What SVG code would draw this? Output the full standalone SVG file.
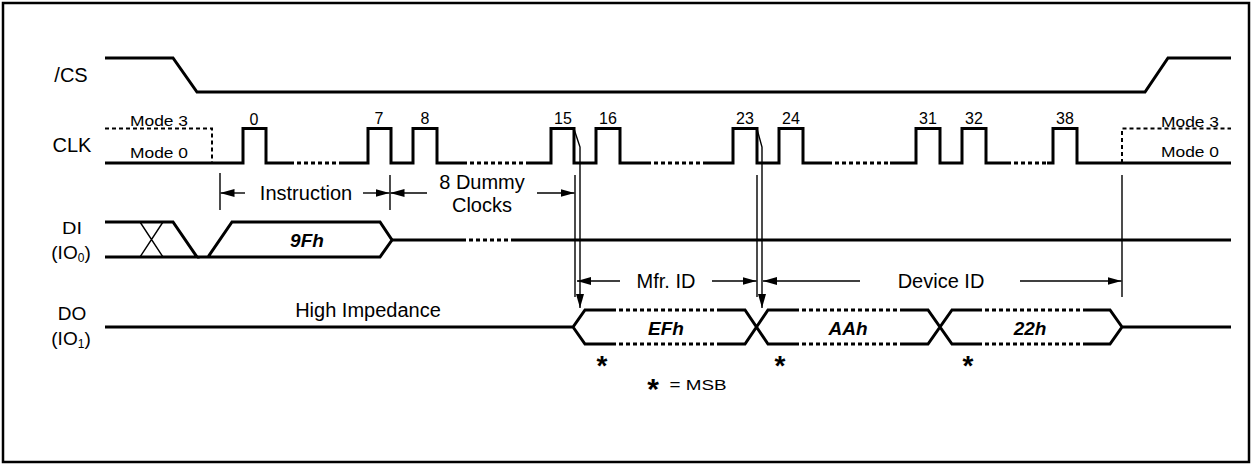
<svg xmlns="http://www.w3.org/2000/svg" width="1252" height="464" viewBox="0 0 1252 464">
<defs>
<style>
.sig{fill:none;stroke:#000;stroke-width:3;stroke-linejoin:miter}
.dash{fill:none;stroke:#000;stroke-width:3;stroke-dasharray:4 3}
.thin{fill:none;stroke:#000;stroke-width:1.4}
.mdash{fill:none;stroke:#000;stroke-width:2;stroke-dasharray:4 3}
text{font-family:"Liberation Sans",Arial,sans-serif;fill:#000}
.lbl{font-size:20px;text-anchor:middle}
.num{font-size:16px;text-anchor:middle}
.mode{font-size:15px;text-anchor:middle}
.bus{font-size:19px;font-weight:bold;font-style:italic;text-anchor:middle}
.ast{font-size:28px;font-weight:bold;text-anchor:middle}
</style>
<marker id="ah" viewBox="0 0 14 8" refX="14" refY="4" markerWidth="14" markerHeight="8" markerUnits="userSpaceOnUse" orient="auto">
<path d="M0,0 L14,4 L0,8 Z" fill="#000"/>
</marker>
</defs>
<rect x="3" y="3" width="1246" height="459" fill="#fff" stroke="#000" stroke-width="2.5"/>

<g id="cs">
<text class="lbl" x="71" y="82">/CS</text>
<polyline class="sig" points="105,58 173,58 197,92 1145,92 1168,58 1231,58"/>
</g>

<g id="clk">
<text class="lbl" x="72" y="152">CLK</text>
<text class="mode" x="159" y="126" textLength="58" lengthAdjust="spacingAndGlyphs">Mode 3</text>
<text class="mode" x="159" y="158" textLength="58" lengthAdjust="spacingAndGlyphs">Mode 0</text>
<text class="mode" x="1190" y="127" textLength="58" lengthAdjust="spacingAndGlyphs">Mode 3</text>
<text class="mode" x="1190" y="157" textLength="58" lengthAdjust="spacingAndGlyphs">Mode 0</text>
<path class="mdash" d="M105,128.5 H212 V163"/>
<path class="mdash" d="M1122,163 V128.5 H1231"/>
<path class="sig" d="M105,163 H243 V128.5 H266 V163 H290"/>
<path class="dash" d="M290,163 H343"/>
<path class="sig" d="M343,163 H368 V128.5 H391 V163 H413 V128.5 H437 V163 H463"/>
<path class="dash" d="M463,163 H530"/>
<path class="sig" d="M530,163 H551 V128.5 H574 V163 H596 V128.5 H620 V163 H647"/>
<path class="dash" d="M647,163 H707"/>
<path class="sig" d="M707,163 H733 V128.5 H757 V163 H779 V128.5 H803 V163 H828"/>
<path class="dash" d="M828,163 H890"/>
<path class="sig" d="M890,163 H916 V128.5 H940 V163 H962 V128.5 H986 V163 H1007"/>
<path class="dash" d="M1007,163 H1047"/>
<path class="sig" d="M1047,163 H1053 V128.5 H1077 V163 H1231"/>
<text class="num" x="254" y="125">0</text>
<text class="num" x="379" y="124">7</text>
<text class="num" x="425" y="124">8</text>
<text class="num" x="563" y="124">15</text>
<text class="num" x="608" y="124">16</text>
<text class="num" x="745" y="124">23</text>
<text class="num" x="791" y="124">24</text>
<text class="num" x="928" y="124">31</text>
<text class="num" x="974" y="124">32</text>
<text class="num" x="1065" y="124">38</text>
</g>

<g id="di">
<text class="lbl" x="72" y="234" style="font-size:17px" textLength="20" lengthAdjust="spacingAndGlyphs">DI</text>
<text class="lbl" x="71" y="259" style="font-size:19px">(IO<tspan font-size="12" dy="3">0</tspan><tspan dy="-3">)</tspan></text>
<path class="sig" d="M105,222 H173 L197,257 H105"/>
<path class="thin" d="M140,222 L163,257 M140,257 L163,222"/>
<path class="sig" d="M197,257 H208 L232,222 H380 L392,240 L380,257 H208"/>
<path class="sig" d="M392,240 H462"/>
<path class="dash" d="M462,240 H515"/>
<path class="sig" d="M515,240 H1231"/>
<text class="bus" x="307" y="247">9Fh</text>
</g>

<g id="do">
<text class="lbl" x="72" y="320" style="font-size:19px">DO</text>
<text class="lbl" x="71" y="345" style="font-size:19px">(IO<tspan font-size="12" dy="3">1</tspan><tspan dy="-3">)</tspan></text>
<text class="lbl" x="368" y="317">High Impedance</text>
<path class="sig" d="M105,327 H573 L585,310 H612 M573,327 L585,344 H612"/>
<path class="dash" d="M612,310 H718 M612,344 H718"/>
<path class="sig" d="M718,310 H745 L768,344 H795 M718,344 H745 L768,310 H795"/>
<path class="dash" d="M795,310 H901 M795,344 H901"/>
<path class="sig" d="M901,310 H928 L952,344 H978 M901,344 H928 L952,310 H978"/>
<path class="dash" d="M978,310 H1085 M978,344 H1085"/>
<path class="sig" d="M1085,310 H1110 L1122,327 L1110,344 H1085 M1122,327 H1231"/>
<text class="bus" x="666" y="335">EFh</text>
<text class="bus" x="848" y="335">AAh</text>
<text class="bus" x="1030" y="335">22h</text>
<text class="ast" x="602" y="375">*</text>
<text class="ast" x="780" y="375">*</text>
<text class="ast" x="968" y="375">*</text>
<text class="ast" x="653" y="399" style="font-size:30px">*</text>
<text x="698" y="390" style="font-size:14px;text-anchor:middle" textLength="57" lengthAdjust="spacingAndGlyphs">= MSB</text>
</g>

<g id="connectors">
<path class="thin" d="M220,173 V210 M390,175 V210 M575,175 V297 M757,175 V297 M1122,175 V297"/>
<line class="thin" x1="245" y1="193" x2="220.5" y2="193" marker-end="url(#ah)"/>
<line class="thin" x1="363" y1="193" x2="389.5" y2="193" marker-end="url(#ah)"/>
<line class="thin" x1="427" y1="193" x2="390.5" y2="193" marker-end="url(#ah)"/>
<line class="thin" x1="537" y1="193" x2="574.5" y2="193" marker-end="url(#ah)"/>
<line class="thin" x1="620" y1="281" x2="577" y2="281" marker-end="url(#ah)"/>
<line class="thin" x1="712" y1="281" x2="756.5" y2="281" marker-end="url(#ah)"/>
<line class="thin" x1="860" y1="281" x2="763" y2="281" marker-end="url(#ah)"/>
<line class="thin" x1="1020" y1="281" x2="1121.5" y2="281" marker-end="url(#ah)"/>
<polyline class="thin" points="574,129 580,147 580,308" marker-end="url(#ah)"/>
<polyline class="thin" points="757,129 762,147 762,308" marker-end="url(#ah)"/>
<text class="lbl" x="306" y="200">Instruction</text>
<text class="lbl" x="482" y="189">8 Dummy</text>
<text class="lbl" x="482" y="212">Clocks</text>
<text class="lbl" x="666" y="288">Mfr. ID</text>
<text class="lbl" x="941" y="288">Device ID</text>
</g>
</svg>
